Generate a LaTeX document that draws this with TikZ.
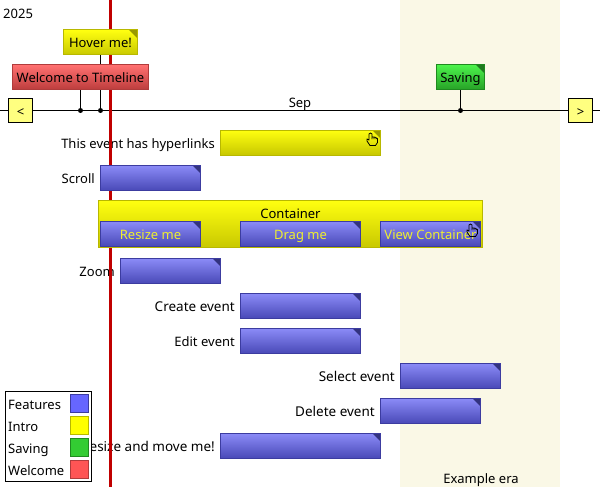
\documentclass[tikz,border=0pt]{standalone}
\usepackage{fontspec}
\setmainfont{Noto Sans}
\usepackage{xcolor}
\usepackage{tikz}

\definecolor{redline}{HTML}{C00000}
\definecolor{erafill}{HTML}{FAF8E6}
\definecolor{labelyellow}{HTML}{EFEF30}
\definecolor{blueedge}{HTML}{3C3CA0}
\definecolor{bluetop}{HTML}{8C8CF8}
\definecolor{bluebottom}{HTML}{4A4AB8}
\definecolor{bluefold}{HTML}{33337F}
\definecolor{blueflat}{HTML}{6666FF}
\definecolor{yellowedge}{HTML}{B8B800}
\definecolor{yellowtop}{HTML}{FFFF10}
\definecolor{yellowbottom}{HTML}{C8C800}
\definecolor{yellowfold}{HTML}{999900}
\definecolor{yellowflat}{HTML}{FFFF00}
\definecolor{greenedge}{HTML}{1F8A1F}
\definecolor{greentop}{HTML}{4CF24C}
\definecolor{greenbottom}{HTML}{26A026}
\definecolor{greenfold}{HTML}{1F7A1F}
\definecolor{greenflat}{HTML}{33CC33}
\definecolor{rededge}{HTML}{B03C3C}
\definecolor{redtop}{HTML}{FF7070}
\definecolor{redbottom}{HTML}{BB3C3C}
\definecolor{redflat}{HTML}{FF5555}
\definecolor{navfill}{HTML}{FFFF80}

\tikzset{
  bartext/.style={font=\fontsize{13}{15}\selectfont,text height=13pt,text depth=2pt},
  bar/.style={draw=#1edge,top color=#1top,bottom color=#1bottom,line width=1pt,inner sep=0pt,minimum height=25pt,bartext},
  fold/.style={path picture={\fill[#1] ([xshift=-8.5pt]path picture bounding box.north east) -- (path picture bounding box.north east) -- ([yshift=-8.5pt]path picture bounding box.north east) -- cycle;}},
  feature/.style={bar=blue,fold=bluefold,text=labelyellow},
  intro/.style={bar=yellow,fold=yellowfold},
  saving/.style={bar=green,fold=greenfold},
  welcome/.style={bar=red},
  caption/.style={inner sep=0pt,bartext},
  eventname/.style={caption,anchor=east},
  widename/.style={eventname,font=\fontsize{13.5}{15}\selectfont},
  navbutton/.style={draw,fill=navfill,line width=1pt,minimum size=24pt,inner sep=0pt,bartext},
  dot/.style={circle,fill=black,inner sep=0pt,minimum size=5pt},
  swatch/.style={line width=1pt,minimum size=18pt,inner sep=0pt},
  legendtext/.style={caption,anchor=west},
  hand/.pic={
    \draw[line width=0.8pt,line join=round]
      (-3.5,-6) -- (-3.5,0) -- (-5.5,-1) -- (-5.5,1) -- (-2.5,5.5) -- (3,5.5) -- (5,2.5) -- (5,-1.5)
      -- (3.5,-2) -- (3.5,-1) -- (3.5,-2.5) -- (1.5,-3) -- (1.5,-1) -- (1.5,-3) -- (-0.5,-3) -- (-0.5,-1)
      -- (-0.5,-6) -- (-2,-7) -- cycle;
  }
}

\begin{document}
\begin{tikzpicture}[x=1pt,y=-1pt]
\useasboundingbox (0,0) rectangle (600,487);

\fill[erafill] (400,0) rectangle (560,487);
\node[caption] (eraname) at (481,478) {Example era};
\node[caption,anchor=west] (year) at (3,13) {2025};
\node[caption] (month) at (300,102) {Sep};

\coordinate (axisleft) at (0,110.5);
\coordinate (axisright) at (600,110.5);
\draw[line width=1pt] (axisleft) -- (axisright);

\node[eventname] (linksname) at (215,143) {This event has hyperlinks};
\node[eventname] (scrollname) at (95,178) {Scroll};
\node[eventname] (zoomname) at (115,271) {Zoom};
\node[widename] (createname) at (235,306) {Create event};
\node[eventname] (editname) at (235,341) {Edit event};
\node[widename] (selectname) at (395,376) {Select event};
\node[widename] (deletename) at (375,411) {Delete event};
\node[widename] (movename) at (215,446) {Resize and move me!};

\coordinate (nowtop) at (110.5,0);
\coordinate (nowbottom) at (110.5,487);
\draw[redline,line width=3pt] (nowtop) -- (nowbottom);

\node[dot] (hoverdot) at (100.5,110.5) {};
\node[dot] (welcomedot) at (80.5,110.5) {};
\node[dot] (savingdot) at (460.5,110.5) {};

\node[intro,minimum width=74pt] (hover) at (100.5,42.5) {Hover me!};
\node[saving,minimum width=48pt] (save) at (460.5,77.5) {Saving};
\draw[line width=1pt] (hover) -- (hoverdot);
\draw[line width=1pt] (save) -- (savingdot);
\node[welcome,minimum width=136pt] (hello) at (80.5,77.5) {Welcome to Timeline};
\draw[line width=1pt] (hello) -- (welcomedot);

\node[navbutton] (prev) at (20.5,110.5) {<};
\node[navbutton] (next) at (580.5,110.5) {>};

\node[intro,minimum width=160pt] (links) at (300.5,142.5) {};
\node[feature,minimum width=100pt] (scroll) at (150.5,177.5) {};

\node[bar=yellow,minimum width=384pt,minimum height=47pt] (container) at (290.5,224) {};
\node[caption] (containername) at (290.5,213) {Container};
\node[feature,minimum width=100pt] (resize) at (150.5,233.5) {Resize me};
\node[feature,minimum width=120pt] (drag) at (300.5,233.5) {Drag me};
\node[feature,minimum width=100pt] (view) at (430.5,233.5) {View Container};

\node[feature,minimum width=100pt] (zoom) at (170.5,270.5) {};
\node[feature,minimum width=120pt] (create) at (300.5,305.5) {};
\node[feature,minimum width=120pt] (edit) at (300.5,340.5) {};
\node[feature,minimum width=100pt] (select) at (450.5,375.5) {};
\node[feature,minimum width=100pt] (delete) at (430.5,410.5) {};
\node[feature,minimum width=160pt] (move) at (300.5,445.5) {};

\pic at (372.5,140) {hand};
\pic at (472.5,231) {hand};

\node[draw,fill=white,line width=1pt,minimum width=86pt,minimum height=90pt,inner sep=0pt] (legend) at (48.5,436) {};
\node[swatch,draw=blueedge,fill=blueflat] (featureswatch) at (79.5,403.5) {};
\node[swatch,draw=yellowedge,fill=yellowflat] (introswatch) at (79.5,425.5) {};
\node[swatch,draw=greenedge,fill=greenflat] (savingswatch) at (79.5,447.5) {};
\node[swatch,draw=rededge,fill=redflat] (welcomeswatch) at (79.5,469.5) {};
\node[legendtext] (featurename) at (8,404) {Features};
\node[legendtext] (introname) at (8,426) {Intro};
\node[legendtext] (savingname) at (8,448) {Saving};
\node[legendtext] (welcomename) at (8,470) {Welcome};

\end{tikzpicture}
\end{document}
